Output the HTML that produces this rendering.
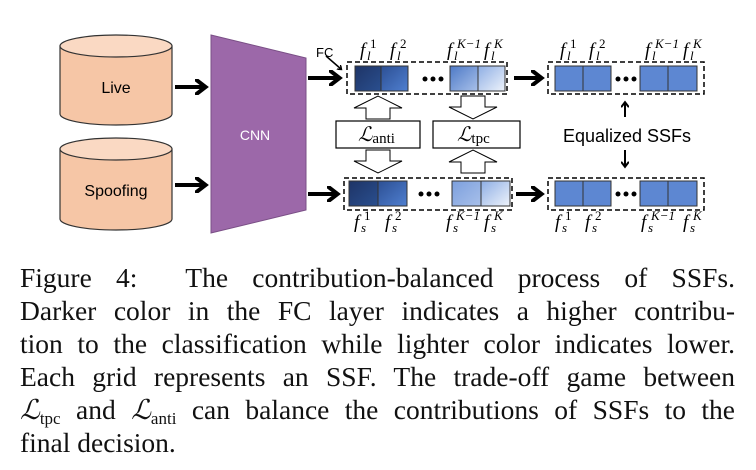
<!DOCTYPE html>
<html><head><meta charset="utf-8"><style>
html,body{margin:0;padding:0;background:#fff;width:756px;height:470px;overflow:hidden}
svg{position:absolute;left:0;top:0}
.cap{position:absolute;left:20px;width:715px;font-family:"Liberation Serif",serif;font-size:27.5px;color:#111;line-height:32px}
.l{display:block;height:33px;text-align:justify;text-align-last:justify;white-space:nowrap}
.last{text-align-last:left}
sub{font-size:17px;vertical-align:-5px;line-height:0}
</style></head><body>
<svg width="756" height="250" viewBox="0 0 756 250" font-family="Liberation Sans, sans-serif">
<defs>
<linearGradient id="g1" x1="0" y1="0" x2="1" y2="1"><stop offset="0" stop-color="#1e3466"/><stop offset="1" stop-color="#2a4f8f"/></linearGradient>
<linearGradient id="g2" x1="0" y1="0" x2="1" y2="1"><stop offset="0" stop-color="#2c4f93"/><stop offset="1" stop-color="#4f7fd0"/></linearGradient>
<linearGradient id="g3" x1="0" y1="0" x2="1" y2="1"><stop offset="0" stop-color="#4d79c6"/><stop offset="1" stop-color="#a9c1ea"/></linearGradient>
<linearGradient id="g4" x1="0" y1="0" x2="1" y2="1"><stop offset="0" stop-color="#8eaee4"/><stop offset="1" stop-color="#eef3fb"/></linearGradient>
<linearGradient id="g5" x1="0" y1="0" x2="1" y2="1"><stop offset="0" stop-color="#7c9fdd"/><stop offset="1" stop-color="#a8c0ea"/></linearGradient>
<marker id="ah" markerWidth="4" markerHeight="4" refX="2.2" refY="2" orient="auto" markerUnits="strokeWidth"><path d="M0,0 L2.6,2 L0,4" fill="none" stroke="#000" stroke-width="1"/></marker>
</defs>
<g stroke="#333" stroke-width="1.2">
<path d="M60,46 L60,114 A56,11 0 0 0 172,114 L172,46" fill="#f6c6a6"/>
<ellipse cx="116" cy="46" rx="56" ry="11" fill="#fad9c3"/>
<path d="M60,149 L60,219 A56,11 0 0 0 172,219 L172,149" fill="#f6c6a6"/>
<ellipse cx="116" cy="149" rx="56" ry="11" fill="#fad9c3"/>
</g>
<text x="116" y="93" font-size="16" text-anchor="middle" fill="#000">Live</text>
<text x="116" y="196" font-size="16" text-anchor="middle" fill="#000">Spoofing</text>
<path d="M211,35 L306,58 L306,210 L211,233 Z" fill="#9c68a9" stroke="#7a4f86" stroke-width="1"/>
<text x="255" y="140" font-size="14" text-anchor="middle" fill="#fff">CNN</text>
<g stroke="#000" stroke-width="4" fill="none" marker-end="url(#ah)">
<line x1="175" y1="87" x2="204" y2="87"/>
<line x1="175" y1="185" x2="204" y2="185"/>
<line x1="308" y1="78" x2="338" y2="78"/>
<line x1="308" y1="194" x2="336" y2="194"/>
<line x1="514" y1="78" x2="540" y2="78"/>
<line x1="516" y1="194" x2="540" y2="194"/>
</g>
<line x1="326" y1="56" x2="341" y2="69" stroke="#000" stroke-width="1.5" marker-end="url(#ah)"/>
<text x="316" y="57" font-size="13" fill="#000">FC</text>
<g fill="none" stroke="#000" stroke-width="1.5" stroke-dasharray="5,3">
<rect x="347" y="62" width="160" height="32"/>
<rect x="344" y="178" width="168" height="32"/>
<rect x="548" y="62" width="156" height="32"/>
<rect x="548" y="178" width="156" height="32"/>
</g>
<g stroke="#333" stroke-width="1">
<rect x="355" y="66" width="26" height="25" fill="url(#g1)"/>
<rect x="381" y="66" width="27" height="25" fill="url(#g2)"/>
<rect x="450" y="66" width="28" height="25" fill="url(#g3)"/>
<rect x="478" y="66" width="27" height="25" fill="url(#g4)"/>
<rect x="349" y="181" width="29" height="25" fill="url(#g1)"/>
<rect x="378" y="181" width="29" height="25" fill="url(#g2)"/>
<rect x="452" y="181" width="29" height="25" fill="url(#g5)"/>
<rect x="481" y="181" width="29" height="25" fill="url(#g4)"/>
<g fill="#5d87d2">
<rect x="555" y="66" width="28" height="25"/><rect x="583" y="66" width="28" height="25"/>
<rect x="640" y="66" width="28" height="25"/><rect x="668" y="66" width="29" height="25"/>
<rect x="555" y="181" width="28" height="25"/><rect x="583" y="181" width="28" height="25"/>
<rect x="640" y="181" width="28" height="25"/><rect x="668" y="181" width="29" height="25"/>
</g>
</g>
<g fill="#000">
<circle cx="425" cy="79" r="2.5"/><circle cx="433" cy="79" r="2.5"/><circle cx="441" cy="79" r="2.5"/>
<circle cx="421" cy="194" r="2.5"/><circle cx="429" cy="194" r="2.5"/><circle cx="437" cy="194" r="2.5"/>
<circle cx="618" cy="79" r="2.5"/><circle cx="626" cy="79" r="2.5"/><circle cx="634" cy="79" r="2.5"/>
<circle cx="618" cy="194" r="2.5"/><circle cx="626" cy="194" r="2.5"/><circle cx="634" cy="194" r="2.5"/>
</g>
<rect x="336" y="121" width="84" height="27" fill="#fff" stroke="#000" stroke-width="1.2"/>
<rect x="433" y="121" width="87" height="27" fill="#fff" stroke="#000" stroke-width="1.2"/>
<g font-family="Liberation Serif, DejaVu Serif, serif" fill="#000">
<text x="358" y="141" font-size="20" font-style="italic">ℒ<tspan font-size="15" font-style="normal" dy="2">anti</tspan></text>
<text x="457" y="141" font-size="20" font-style="italic">ℒ<tspan font-size="15" font-style="normal" dy="2">tpc</tspan></text>
</g>
<g fill="#fff" stroke="#000" stroke-width="1">
<path d="M354,108 L378,96 L402,108 L390,108 L390,119 L366,119 L366,108 Z"/>
<path d="M354,161 L378,173 L402,161 L390,161 L390,150 L366,150 L366,161 Z"/>
<path d="M449,107 L473,119 L497,107 L485,107 L485,96 L461,96 L461,107 Z"/>
<path d="M449,162 L473,150 L497,162 L485,162 L485,173 L461,173 L461,162 Z"/>
</g>
<text x="627" y="142" font-size="18" text-anchor="middle" fill="#000">Equalized SSFs</text>
<g stroke="#000" stroke-width="2" marker-end="url(#ah)">
<line x1="625" y1="117" x2="625" y2="103"/>
<line x1="625" y1="150" x2="625" y2="166"/>
</g>
<g font-family="Liberation Serif, serif" font-style="italic" fill="#000">
<g font-size="19">
<text x="360" y="56">f</text><text x="390" y="56">f</text><text x="447" y="56">f</text><text x="484" y="56">f</text>
<text x="560" y="56">f</text><text x="589" y="56">f</text><text x="645" y="56">f</text><text x="683" y="56">f</text>
<text x="354" y="228">f</text><text x="385" y="228">f</text><text x="446" y="228">f</text><text x="484" y="228">f</text>
<text x="555" y="228">f</text><text x="585" y="228">f</text><text x="641" y="228">f</text><text x="683" y="228">f</text>
</g>
<g font-size="13">
<text x="367" y="60">l</text><text x="397" y="60">l</text><text x="454" y="60">l</text><text x="491" y="60">l</text>
<text x="567" y="60">l</text><text x="596" y="60">l</text><text x="652" y="60">l</text><text x="690" y="60">l</text>
<text x="361" y="232">s</text><text x="392" y="232">s</text><text x="453" y="232">s</text><text x="491" y="232">s</text>
<text x="562" y="232">s</text><text x="592" y="232">s</text><text x="648" y="232">s</text><text x="690" y="232">s</text>
<text x="370" y="48" font-style="normal">1</text><text x="400" y="48" font-style="normal">2</text><text x="457" y="48">K−1</text><text x="494" y="48">K</text>
<text x="570" y="48" font-style="normal">1</text><text x="599" y="48" font-style="normal">2</text><text x="655" y="48">K−1</text><text x="693" y="48">K</text>
<text x="364" y="220" font-style="normal">1</text><text x="395" y="220" font-style="normal">2</text><text x="456" y="220">K−1</text><text x="494" y="220">K</text>
<text x="565" y="220" font-style="normal">1</text><text x="595" y="220" font-style="normal">2</text><text x="651" y="220">K−1</text><text x="693" y="220">K</text>
</g>
</g>
</svg>
<div class="cap" style="top:262px">
<span class="l">Figure 4:&nbsp; The contribution-balanced process of SSFs.</span>
<span class="l">Darker color in the FC layer indicates a higher contribu-</span>
<span class="l">tion to the classification while lighter color indicates lower.</span>
<span class="l">Each grid represents an SSF. The trade-off game between</span>
<span class="l"><i>ℒ</i><sub>tpc</sub> and <i>ℒ</i><sub>anti</sub> can balance the contributions of SSFs to the</span>
<span class="l last">final decision.</span>
</div>
</body></html>
